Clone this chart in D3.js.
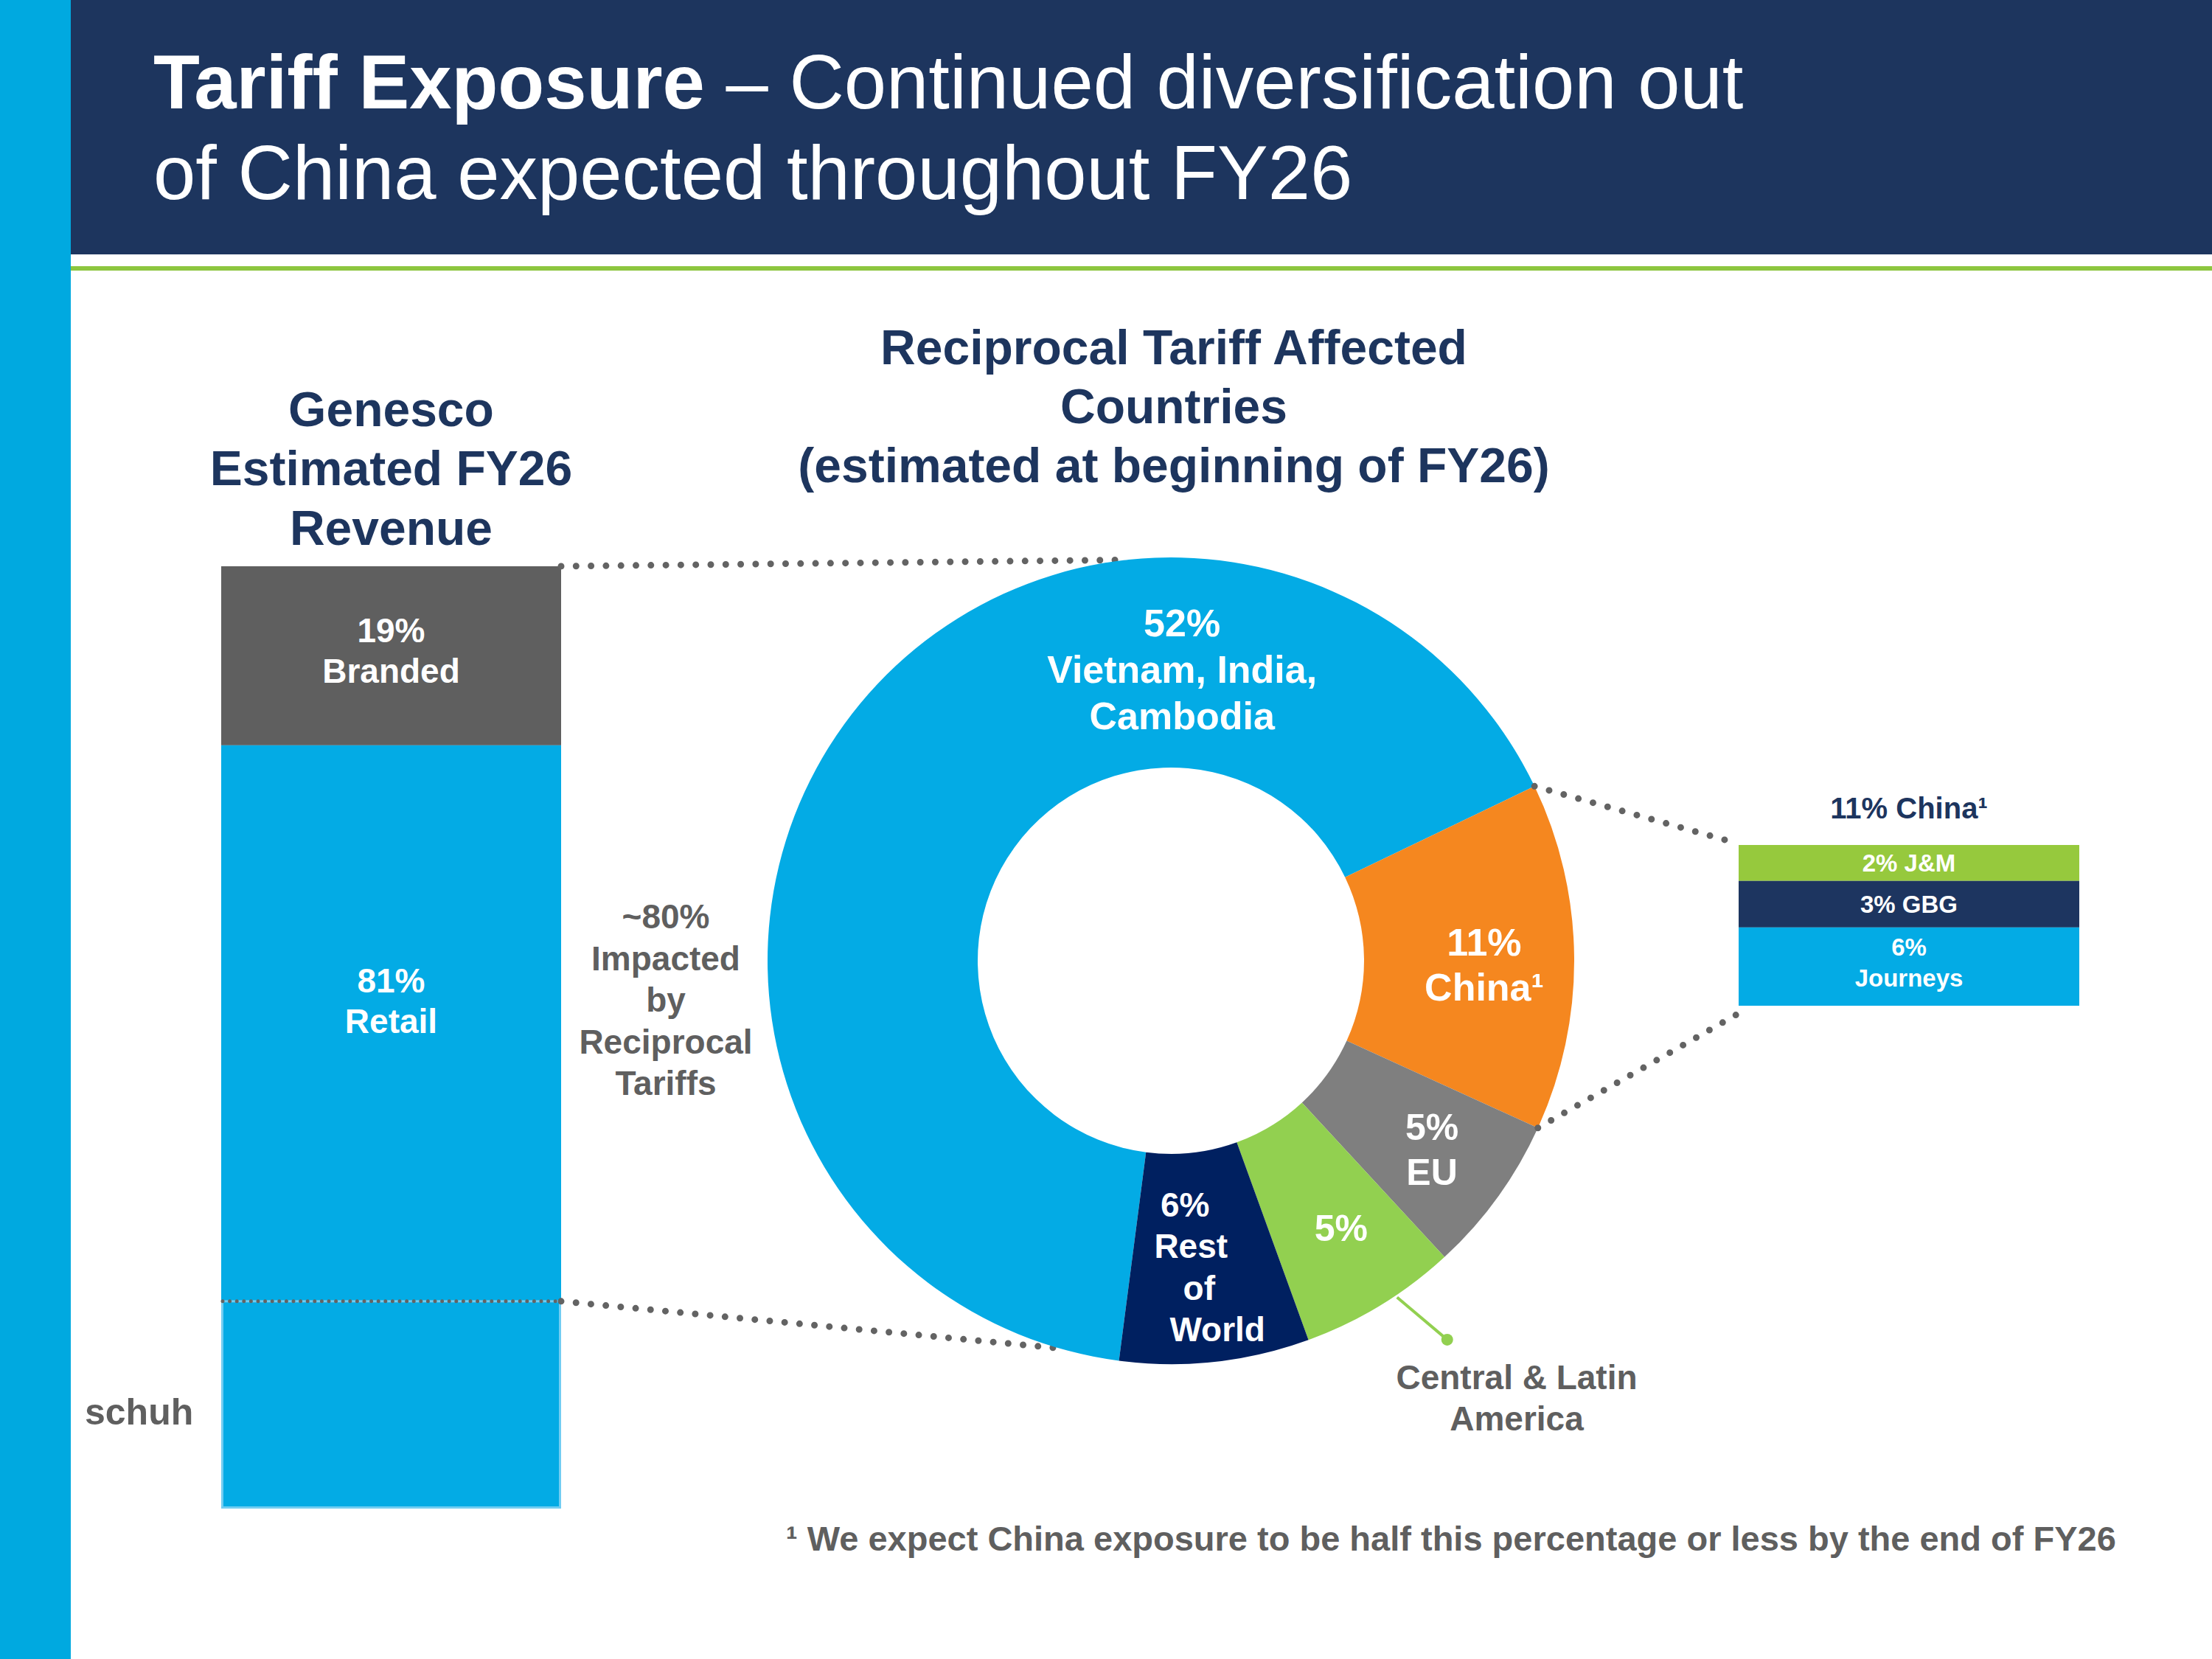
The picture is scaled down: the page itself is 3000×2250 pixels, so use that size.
<!DOCTYPE html>
<html>
<head>
<meta charset="utf-8">
<script src="https://cdn.jsdelivr.net/npm/d3@7"></script>
<style>
  body { margin: 0; background: #fff; }
  svg { display: block; font-family: "Liberation Sans", Arial, sans-serif; }
</style>
</head>
<body>
<div id="chart"></div>
<script>
"use strict";
// ---- data ----
const revenueSegments = ["Branded", "Retail"];
const revenueShares = [19, 81];
const schuhShare = 22; // part of retail, outside the reciprocal tariff exposure

const countryNames = ["Vietnam, India, Cambodia", "China", "EU", "Central & Latin America", "Rest of World"];
const countryShares = [52, 11, 5, 5, 6];

const chinaUnits = ["J&M", "GBG", "Journeys"];
const chinaShares = [2, 3, 6];

const impactedText = ["~80%", "Impacted", "by", "Reciprocal", "Tariffs"];

// ---- colours ----
const NAVY = "#1d355e";
const CYAN = "#03abe5";
const GREY_TEXT = "#5f5f5f";
const DOT = "#636363";
const revenueColors = ["#5f5f5f", CYAN];
const countryColors = [CYAN, "#f5871f", "#7f7f7f", "#92d050", "#002060"];
const chinaColors = ["#96c93d", "#1d3560", CYAN];

const W = 3000, H = 2250;
const svg = d3.select("#chart").append("svg")
	.attr("width", W)
	.attr("height", H);

// helper: centred multi-line text block
function textBlock(g, x, yCenter, lines, size, lineH, color, dxs) {
	let n = lines.length;
	let t = g.append("text")
		.attr("text-anchor", "middle")
		.style("font-size", size + "px")
		.style("font-weight", "bold")
		.style("fill", color);
	lines.forEach(function (line, i) {
		t.append("tspan")
			.attr("x", x + (dxs ? dxs[i] : 0))
			.attr("y", yCenter + (i - (n - 1) / 2) * lineH + 0.35 * size)
			.text(line);
	});
	return t;
}

// helper: round dotted connector
function dots(x1, y1, x2, y2, width, gap) {
	svg.append("path")
		.attr("d", d3.line()([[x1, y1], [x2, y2]]))
		.style("fill", "none")
		.style("stroke", DOT)
		.style("stroke-width", width)
		.style("stroke-linecap", "round")
		.style("stroke-dasharray", "0 " + gap);
}

// ---- slide frame ----
svg.append("rect").attr("x", 0).attr("y", 0).attr("width", 96).attr("height", H).style("fill", "#00a9e0");
svg.append("rect").attr("x", 96).attr("y", 0).attr("width", W - 96).attr("height", 345).style("fill", NAVY);
svg.append("rect").attr("x", 96).attr("y", 361).attr("width", W - 96).attr("height", 6).style("fill", "#8dc63f");

let title = svg.append("text").style("fill", "#fff").style("font-size", "103px");
let t1 = title.append("tspan").attr("x", 208).attr("y", 147);
t1.append("tspan").style("font-weight", "bold").text("Tariff Exposure");
t1.append("tspan").text(" \u2013 Continued diversification out");
title.append("tspan").attr("x", 208).attr("y", 270).text("of China expected throughout FY26");

// ---- left stacked bar: Genesco revenue ----
const barX = d3.scaleBand().domain(["FY26"]).range([300, 761]).padding(0);
const barY = d3.scaleLinear().domain([0, 100]).range([768, 2046]);

textBlock(svg, barX("FY26") + barX.bandwidth() / 2, 658 - 0.35 * 66,
	["Genesco", "Estimated FY26", "Revenue"], 66, 80.5, NAVY);

let stack = d3.cumsum(revenueShares);
let barG = svg.append("g");
revenueShares.forEach(function (v, i) {
	let y0 = barY(stack[i] - v), y1 = barY(stack[i]);
	barG.append("rect")
		.attr("x", barX("FY26"))
		.attr("y", y0)
		.attr("width", barX.bandwidth())
		.attr("height", y1 - y0)
		.style("fill", revenueColors[i]);
});

// schuh slice inside retail
let schuhTop = barY(100 - schuhShare);
barG.append("rect")
	.attr("x", barX("FY26") + 1.5)
	.attr("y", schuhTop)
	.attr("width", barX.bandwidth() - 3)
	.attr("height", barY(100) - schuhTop - 1.5)
	.style("fill", CYAN)
	.style("stroke", "#72cdf2")
	.style("stroke-width", 3);

let barCx = barX("FY26") + barX.bandwidth() / 2;
textBlock(svg, barCx, (barY(0) + barY(revenueShares[0])) / 2 - 7,
	[revenueShares[0] + "%", revenueSegments[0]], 46, 55, "#fff");
textBlock(svg, barCx, (barY(revenueShares[0]) + schuhTop) / 2 - 30,
	[revenueShares[1] + "%", revenueSegments[1]], 46, 55, "#fff");

svg.append("text")
	.attr("x", 115).attr("y", 1932)
	.style("font-size", "50px").style("font-weight", "bold").style("fill", GREY_TEXT)
	.text("schuh");

// ---- donut: reciprocal tariff affected countries ----
const cx = 1588, cy = 1303, rOut = 547, rIn = 262;
const a0 = 187.4 * Math.PI / 180;
const pie = d3.pie().sort(null).value(function (d) { return d; })
	.startAngle(a0).endAngle(a0 + 2 * Math.PI);
const arcs = pie(countryShares);
const arc = d3.arc().innerRadius(rIn).outerRadius(rOut);

function polar(angle, r) {
	return [cx + r * Math.sin(angle), cy - r * Math.cos(angle)];
}

textBlock(svg, cx + 4, 574 - 0.35 * 66,
	["Reciprocal Tariff Affected", "Countries", "(estimated at beginning of FY26)"], 66, 80, NAVY);

// connectors from bar to donut
let pTop = polar(-6.3 * Math.PI / 180, rOut);
let pBot = polar(196.1 * Math.PI / 180, rOut);
dots(barX.range()[1], barY(0), pTop[0], pTop[1], 9, 20.3);
dots(barX.range()[0] + 2, schuhTop, barX.range()[1], schuhTop, 5, 9.6);
dots(barX.range()[1], schuhTop, pBot[0], pBot[1], 9, 20.3);

let donut = svg.append("g").attr("transform", "translate(" + cx + "," + cy + ")");
donut.selectAll("path")
	.data(arcs)
	.enter()
	.append("path")
	.attr("d", arc)
	.style("fill", function (d, i) { return countryColors[i]; });

function mid(d) { return (d.startAngle + d.endAngle) / 2; }

// slice labels
let blueC = polar(2.2 * Math.PI / 180, 395);
textBlock(svg, blueC[0], blueC[1], [countryShares[0] + "%", "Vietnam, India,", "Cambodia"], 52, 63, "#fff");
let chinaC = polar(mid(arcs[1]) + 0.022, 425);
textBlock(svg, chinaC[0], chinaC[1], [countryShares[1] + "%", "China\u00b9"], 52, 61, "#fff");
let euC = polar(mid(arcs[2]), 437);
textBlock(svg, euC[0], euC[1], [countryShares[2] + "%", countryNames[2]], 50, 61, "#fff");
let laC = polar(mid(arcs[3]) - 0.02, 430);
textBlock(svg, laC[0], laC[1], [countryShares[3] + "%"], 50, 61, "#fff");
let rowC = polar(mid(arcs[4]) + 0.02, 417);
textBlock(svg, rowC[0], rowC[1], [countryShares[4] + "%", "Rest", "of", "World"], 46, 56.3, "#fff", [-18, -10, 1, 26]);

// leader for Central & Latin America
let l1 = polar(146.1 * Math.PI / 180, rOut + 3);
let l2 = polar(143.9 * Math.PI / 180, 636);
svg.append("line")
	.attr("x1", l1[0]).attr("y1", l1[1]).attr("x2", l2[0]).attr("y2", l2[1])
	.style("stroke", countryColors[3]).style("stroke-width", 4);
svg.append("circle").attr("cx", l2[0]).attr("cy", l2[1]).attr("r", 8).style("fill", countryColors[3]);
textBlock(svg, 2057, 1912 - 0.35 * 46, ["Central & Latin", "America"], 46, 56, GREY_TEXT);

// "~80% impacted" note between bar and donut
textBlock(svg, (barX.range()[1] + cx - rOut) / 2 + 2, 1372 - 0.35 * 46, impactedText, 46, 56.5, GREY_TEXT);

// ---- China breakdown bar ----
const cbX = d3.scaleBand().domain(["China"]).range([2358, 2820]).padding(0);
const cbH = d3.scaleLinear().domain([0, d3.sum(chinaShares)]).range([0, 158]);
const segPad = 20;
const cbTop = 1146;
let cbY = cbTop;
let cbG = svg.append("g");
let cbCx = cbX("China") + cbX.bandwidth() / 2;
chinaShares.forEach(function (v, i) {
	let h = segPad + cbH(v);
	cbG.append("rect")
		.attr("x", cbX("China"))
		.attr("y", cbY)
		.attr("width", cbX.bandwidth())
		.attr("height", h)
		.style("fill", chinaColors[i]);
	let lines = i < 2 ? [v + "% " + chinaUnits[i]] : [v + "%", chinaUnits[i]];
	textBlock(cbG, cbCx, cbY + h / 2 - (i < 2 ? 0 : 5), lines, 33, 42, "#fff");
	cbY += h;
});
const cbBottom = cbY;

svg.append("text")
	.attr("x", cbCx).attr("y", 1110)
	.attr("text-anchor", "middle")
	.style("font-size", "40px").style("font-weight", "bold").style("fill", NAVY)
	.text(d3.sum(chinaShares) + "% China\u00b9");

// connectors from China slice to breakdown bar
let c1 = polar(arcs[1].startAngle, rOut);
let c2 = polar(arcs[1].endAngle, rOut);
dots(c1[0], c1[1], cbX("China") - 1, cbTop - 2, 9, 20.6);
dots(c2[0], c2[1], cbX("China") - 1, cbBottom + 11, 9, 20.6);

// ---- footnote ----
svg.append("text")
	.attr("x", 1066).attr("y", 2103)
	.style("font-size", "47px").style("font-weight", "bold").style("fill", GREY_TEXT)
	.text("\u00b9 We expect China exposure to be half this percentage or less by the end of FY26");
</script>
</body>
</html>
